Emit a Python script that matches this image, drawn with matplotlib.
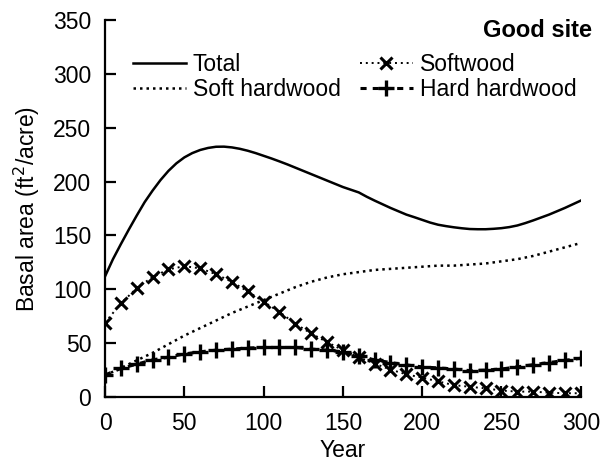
import matplotlib
matplotlib.use('Agg')
import matplotlib.pyplot as plt

plt.rcParams['font.family'] = ['Liberation Sans', 'DejaVu Sans']

# Total basal area, read every 5 years (smooth curve)
total_years = list(range(0, 301, 5))
total = [112, 128, 142, 155.5, 168.5, 181, 191.7, 201.5, 210, 217, 222.5, 226.5, 229.4,
         231.3, 232.4, 232.5, 231.8, 230.5, 228.7, 226.5, 224, 221.5, 218.8, 216, 213,
         210, 207, 204, 201, 198, 195, 192.5, 190, 186, 182.4, 179, 175.6, 172.5, 169.4,
         167, 164.5, 162, 160, 158.7, 157.6, 156.7, 156, 155.8, 155.8, 156.2, 156.8,
         157.8, 159.3, 161.5, 164, 166.7, 169.4, 172.5, 175.6, 179, 182.4]

# Groups, read every 10 years
years = list(range(0, 301, 10))
soft_hardwood = [20, 27, 34, 41, 49, 57, 64, 71, 78, 84, 90, 96, 102, 107, 111, 114,
                 116, 118, 119, 120, 121, 122, 122, 123, 124, 126, 128, 131, 135, 139, 143]
softwood = [69, 87, 101, 111.5, 118.5, 121.5, 119.5, 114, 107, 98, 88.5, 79, 68, 59, 51, 43.5,
            37, 31, 25.5, 21, 18, 14.5, 11, 9.5, 8, 6, 5, 5, 4, 3.5, 3.5]
hard_hardwood = [20.5, 26.5, 30.5, 34.5, 37, 40, 42, 43.5, 44.5, 45.5, 46, 46, 46, 44.5, 43.5, 42,
                 38, 34.5, 32, 29.8, 28, 27, 26, 24.5, 25, 26, 28, 30, 32, 34, 36]

fig = plt.figure(figsize=(6.12, 4.68), dpi=100)
ax = fig.add_axes([0.1716, 0.1517, 0.7774, 0.8053])

l_total, = ax.plot(total_years, total, color='black', lw=1.8, label='Total')
l_shw, = ax.plot(years, soft_hardwood, color='black', lw=1.8, linestyle=(0, (1, 1.6)),
                 label='Soft hardwood')
l_sw, = ax.plot(years, softwood, color='black', lw=1.4, linestyle=(0, (1, 2)),
                marker='x', ms=9, mew=2.2, label='Softwood')
l_hhw, = ax.plot(years, hard_hardwood, color='black', lw=2.2, linestyle=(0, (2, 2)),
                 marker='+', ms=11, mew=2.4, label='Hard hardwood')

ax.set_xlim(0, 300)
ax.set_ylim(0, 350)
ax.set_xticks(range(0, 301, 50))
ax.set_yticks(range(0, 351, 50))
for side in ['top', 'right']:
    ax.spines[side].set_visible(False)
for side in ['left', 'bottom']:
    ax.spines[side].set_linewidth(1.6)
ax.tick_params(direction='in', length=8, width=1.6, labelsize=16.5, pad=10)
ax.tick_params(axis='x', pad=11)

ax.set_xlabel('Year', fontsize=16.5, labelpad=3)
ax.set_ylabel('Basal area (ft$^2$/acre)', fontsize=16.5, labelpad=8)

ax.text(1.023, 1.003, 'Good site', transform=ax.transAxes, ha='right', va='top',
        fontsize=17, fontweight='bold')

ax.legend(handles=[l_total, l_shw, l_sw, l_hhw], ncol=2, loc='upper left',
          bbox_to_anchor=(0.059, 0.913), frameon=False, fontsize=16.5,
          handlelength=2.3, handletextpad=0.3, columnspacing=0.85,
          labelspacing=0.1, borderaxespad=0, borderpad=0)

fig.savefig('out.png', dpi=100)
